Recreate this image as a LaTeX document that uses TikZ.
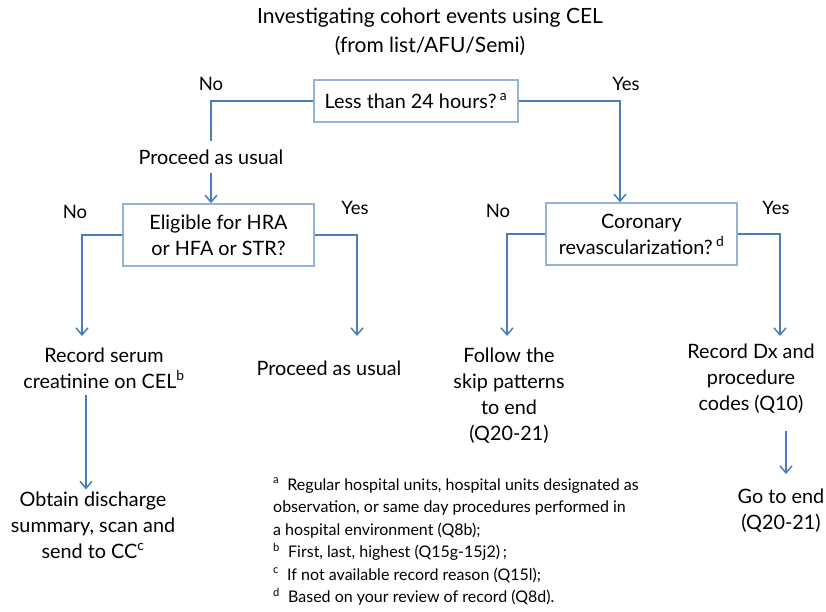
\documentclass[tikz,border=0pt]{standalone}
\usepackage{fontspec}
\setmainfont{Lato}
\usetikzlibrary{arrows.meta,calc,positioning}
\definecolor{lineblue}{HTML}{4A7EBB}
\definecolor{boxblue}{HTML}{95B3D7}

\begin{document}
\begin{tikzpicture}[x=1pt, y=-1pt,
  qbox/.style={rectangle, draw=boxblue, line width=1.5pt, minimum width=204pt, minimum height=42pt, font=\fontsize{19.8}{26}\selectfont, align=center},
  txt/.style={font=\fontsize{19.8}{26}\selectfont, align=center, inner sep=2pt},
  lbl/.style={font=\fontsize{18.5}{20}\selectfont},
  flow/.style={draw=lineblue, line width=1.5pt},
  arr/.style={flow, -{Straight Barb[length=7pt,width=12pt]}}
]
\useasboundingbox (0,0) rectangle (826,611);

\node[txt, font=\fontsize{21}{29}\selectfont] (ttl) at (430,32) {Investigating cohort events using CEL\\(from list/AFU/Semi)};

\node[qbox] (q1) at (416,101) {Less than 24 hours?\,\textsuperscript{a}};
\node[qbox, minimum width=191pt, minimum height=62pt] (q2) at (218.5,235) {Eligible for HRA\\or HFA or STR?};
\node[qbox, minimum width=191pt, minimum height=62pt] (q3) at (641.5,234) {Coronary\\revascularization?\,\textsuperscript{d}};

\node[txt, inner ysep=8pt] (p1) at (211,157) {Proceed as usual};
\node[txt] (r1) at (104,368) {Record serum\\creatinine on CEL\textsuperscript{b}};
\node[txt] (p2) at (329,368) {Proceed as usual};
\node[txt] (r3) at (509,396) {Follow the\\skip patterns\\to end\\(Q20-21)};
\node[txt] (r4) at (751,379) {Record Dx and\\procedure\\codes (Q10)};
\node[txt] (o1) at (93,525) {Obtain discharge\\summary, scan and\\send to CC\textsuperscript{c}};
\node[txt] (g1) at (781,511) {Go to end\\(Q20-21)};

\node[lbl] (no1) at (211,84) {No};
\node[lbl] (yes1) at (626,84) {Yes};
\node[lbl] (no2) at (75,212) {No};
\node[lbl] (yes2) at (355,208) {Yes};
\node[lbl] (no3) at (498,211) {No};
\node[lbl] (yes3) at (776,208) {Yes};

\node[anchor=north west, align=left, inner sep=0pt, font=\fontsize{16}{22.5}\selectfont] (fn) at (273,478)
  {\textsuperscript{a}\ \ Regular hospital units, hospital units designated as\\
   observation, or same day procedures performed in\\
   a hospital environment (Q8b);\\
   \textsuperscript{b}\ \ First, last, highest (Q15g-15j2)\,;\\
   \textsuperscript{c}\ \ If not available record reason (Q15l);\\
   \textsuperscript{d}\ \ Based on your review of record (Q8d).};

\coordinate (e1) at (82,336);
\coordinate (e2) at (357,336);
\coordinate (e3) at (507,336);
\coordinate (e4) at (780,336);

\draw[flow] (q1.west) -| (p1.north);
\draw[arr] (p1.south) -- (q2.north -| p1.south);
\draw[arr] (q1.east) -| ($(q3.north)+(-21.5,0)$);
\draw[arr] (q2.west) -| (e1);
\draw[arr] (q2.east) -| (e2);
\draw[arr] (q3.west) -| (e3);
\draw[arr] (q3.east) -| (e4);
\draw[arr] ($(r1.south -| 86,0)+(0,4)$) -- (o1.north -| 86,0);
\draw[arr] ($(r4.south -| g1.north)+(5,15)$) -- ($(g1.north)+(5,-13)$);
\end{tikzpicture}
\end{document}
